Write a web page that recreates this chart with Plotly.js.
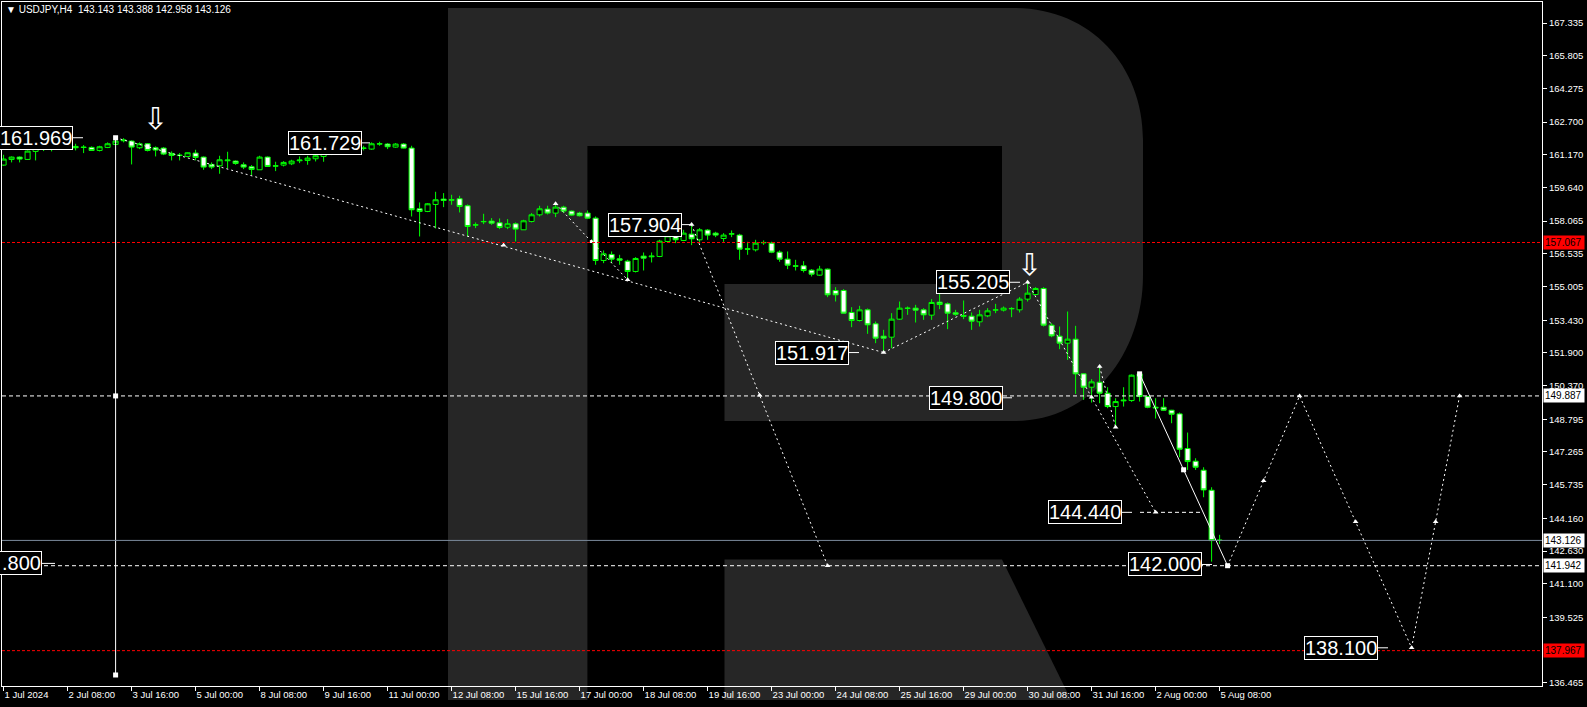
<!DOCTYPE html>
<html><head><meta charset="utf-8">
<script src="https://cdn.plot.ly/plotly-3.0.1.min.js"></script>
<style>html,body{margin:0;padding:0;background:#000;overflow:hidden}#chart{width:1587px;height:707px}</style>
</head><body><div id="chart"></div>
<script>
// ---- data (USDJPY H4, bar 0 = 1 Jul 2024 00:00) ----
const timeLabels = ["1 Jul 2024","2 Jul 08:00","3 Jul 16:00","5 Jul 00:00","8 Jul 08:00","9 Jul 16:00","11 Jul 00:00","12 Jul 08:00","15 Jul 16:00","17 Jul 00:00","18 Jul 08:00","19 Jul 16:00","23 Jul 00:00","24 Jul 08:00","25 Jul 16:00","29 Jul 00:00","30 Jul 08:00","31 Jul 16:00","2 Aug 00:00","5 Aug 08:00"];
const timeLabelBars = [0,8,16,24,32,40,48,56,64,72,80,88,96,104,112,120,128,136,144,152];
const priceTicks = [167.335,165.805,164.275,162.700,161.170,159.640,158.065,156.535,155.005,153.430,151.900,150.370,148.795,147.265,145.735,144.160,142.630,141.100,139.525,136.465];

const openP = [160.689,160.954,161.063,160.954,161.329,161.438,161.469,161.469,161.563,161.563,161.531,161.516,161.375,161.516,161.656,161.828,161.812,161.500,161.687,161.500,161.484,161.235,161.157,161.094,161.250,161.063,160.720,160.657,160.892,160.876,160.704,160.611,160.470,161.063,160.657,160.689,160.751,160.892,160.907,160.985,161.094,161.266,161.250,161.422,161.453,161.469,161.438,161.672,161.672,161.531,161.672,161.484,158.644,158.520,158.847,159.097,159.066,159.113,158.785,157.880,158.036,158.067,157.989,157.786,157.942,157.661,158.051,158.363,158.629,158.442,158.722,158.535,158.442,158.442,158.207,156.226,156.507,156.304,156.194,155.711,156.429,156.397,156.413,157.115,157.365,157.162,157.458,157.193,157.646,157.505,157.255,157.458,157.412,156.772,156.725,157.053,157.037,156.616,156.288,155.976,155.976,155.773,155.539,155.820,154.821,154.821,153.791,153.417,153.916,153.261,152.684,152.636,153.479,153.979,153.994,153.916,153.667,154.275,154.197,153.776,153.651,153.620,153.354,153.635,153.901,153.901,153.963,153.916,154.416,154.634,154.915,153.198,152.684,152.356,152.543,150.919,150.295,150.529,150.014,149.390,149.655,149.671,150.919,149.858,149.359,149.359,149.218,149.047,147.424,146.831,146.410,145.473,143.143];
const highP = [161.172,161.094,161.094,161.375,161.719,161.563,161.563,161.719,161.750,161.687,161.625,161.563,161.594,161.750,161.969,161.950,161.843,161.750,161.719,161.563,161.531,161.329,161.250,161.282,161.407,161.094,160.814,161.126,161.313,160.907,160.814,160.689,161.126,161.094,160.845,160.876,160.938,161.094,161.126,161.250,161.500,161.407,161.500,161.563,161.594,161.594,161.750,161.781,161.719,161.719,161.719,161.594,158.941,158.910,159.440,159.378,159.300,159.253,158.847,158.005,158.410,158.207,158.192,158.161,158.005,158.129,158.442,158.785,158.785,158.878,158.785,158.566,158.504,158.566,158.286,156.694,156.647,156.491,156.257,156.382,156.600,156.600,157.193,157.427,157.427,157.661,157.904,157.739,157.693,157.568,157.505,157.630,157.474,157.100,157.193,157.162,157.100,156.694,156.647,156.257,156.194,155.820,155.976,155.851,154.977,154.884,154.041,154.104,153.979,153.370,152.980,153.760,154.306,154.072,154.150,153.994,154.416,154.696,154.260,153.916,154.353,153.791,153.916,153.994,154.197,154.072,154.041,154.509,155.205,154.977,154.977,153.292,153.136,153.838,153.167,150.951,150.670,151.263,150.295,149.780,150.295,150.888,150.951,149.889,149.780,149.780,149.234,149.109,148.173,146.971,146.550,145.614,143.388];
const lowP = [160.657,160.814,160.814,160.938,160.907,161.344,161.329,161.438,161.500,161.375,161.250,161.360,161.329,161.484,161.625,161.750,160.720,161.438,161.329,161.094,161.157,160.907,160.907,161.063,160.907,160.470,160.501,160.283,160.533,160.704,160.501,160.221,160.470,160.611,160.408,160.626,160.689,160.782,160.704,160.860,160.845,161.157,161.219,161.313,161.313,161.375,161.407,161.594,161.438,161.500,161.469,158.285,157.349,158.488,157.724,158.722,158.832,158.473,157.349,157.739,157.927,157.895,157.693,157.693,157.115,157.661,158.005,158.286,158.379,158.254,158.442,158.317,158.286,158.161,156.023,156.100,156.100,156.023,155.321,155.664,155.757,156.132,156.382,157.068,157.037,157.131,156.943,157.037,157.193,157.318,157.100,157.318,156.257,156.491,156.647,156.959,156.569,156.163,155.820,155.757,155.664,155.477,155.508,154.509,154.306,153.729,153.105,153.370,152.793,152.356,151.917,152.122,153.448,153.682,153.323,153.448,153.448,153.947,153.011,153.635,153.479,152.980,153.136,153.573,153.760,153.838,153.573,153.791,154.306,154.603,153.136,152.636,152.075,151.575,149.983,149.702,149.577,149.546,149.312,148.423,149.390,149.609,149.624,149.312,148.828,149.187,148.610,147.018,146.425,146.425,145.146,142.134,142.958];
const closeP = [160.970,161.063,160.970,161.344,161.484,161.469,161.438,161.672,161.656,161.500,161.516,161.375,161.547,161.687,161.812,161.859,161.531,161.687,161.375,161.391,161.204,161.141,161.141,161.266,161.048,160.595,160.595,160.938,160.923,160.767,160.595,160.486,161.063,160.626,160.642,160.814,160.876,160.923,161.016,161.126,161.313,161.297,161.438,161.453,161.469,161.484,161.687,161.687,161.547,161.672,161.484,158.598,158.520,158.878,159.066,159.034,159.050,158.754,157.817,157.895,158.051,157.973,157.771,157.942,157.693,158.082,158.363,158.644,158.442,158.722,158.535,158.348,158.317,158.207,156.226,156.538,156.288,156.241,155.711,156.319,156.335,156.429,157.131,157.380,157.193,157.505,157.240,157.661,157.412,157.412,157.412,157.474,156.756,156.756,157.037,157.068,156.616,156.288,156.007,155.960,155.757,155.586,155.820,154.618,154.618,153.760,153.417,153.916,153.214,152.590,152.590,153.479,153.994,153.994,153.901,153.682,154.260,154.166,153.760,153.713,153.620,153.386,153.682,153.869,153.916,153.994,153.979,154.416,154.696,154.915,153.198,152.699,152.356,152.543,150.919,150.295,150.545,150.014,149.390,149.624,149.687,150.857,149.858,149.359,149.328,149.218,149.031,147.393,146.815,146.550,145.489,143.117,143.126];

// levels
const redLevels = [157.067, 137.967];
const whiteLevels = [149.887, 141.942];
const bidLevel = 143.126;

// wave / zigzag lines: [bar], [price]
const waveA = {x:[14,110], y:[161.969,151.917]};
const waveB = {x:[69,78], y:[158.878,155.321]};
const waveD = {x:[86,103], y:[157.904,141.942]};
const waveE = {x:[110,128], y:[151.917,155.205]};
const waveF = {x:[128,144], y:[155.205,144.440]};
const waveG = {x:[137,139], y:[151.263,148.423]};
const forecast = {x:[153,162,176,182], y:[141.942,149.887,138.100,149.887]};
const solidLeg = {x:[142,153], y:[150.920,141.942]};
const vertLine = {x:[14,14], y:[161.969,136.828]};
const arrowMarks = {x:[62.5,69,73.5,78,94.5,86,103,110,128,136,144,137,139,157.5,162,169,176,179,182],
                    y:[156.936,158.878,157.100,155.321,149.923,157.904,141.942,151.917,155.205,149.822,144.440,151.263,148.423,145.914,149.887,144.0,138.100,143.994,149.887]};
const squareMarks = {x:[14,14,14,142,147.5,153], y:[161.969,149.887,136.828,150.920,146.431,141.942]};

// text labels: text, price
const waveLabels = [
  ["161.969",161.969],["161.729",161.729],["157.904",157.904],["155.205",155.205],["151.917",151.917],
  ["149.800",149.800],["144.440",144.440],["142.000",142.000],["138.100",138.100],[".800",142.050]
];
// ---- end of data ----

const L=2, R=1542, T=2, B=686;
const px = x => (x-L)/(R-L);
const py = y => (B-y)/(B-T);
const toPaper = s => s.replace(/(-?[\d.]+),(-?[\d.]+)/g,(m,a,b)=>px(+a).toFixed(5)+','+py(+b).toFixed(5));

const barIdx = openP.map((_,i)=>i);
const traces = [];
traces.push({type:'candlestick', x:barIdx, open:openP, high:highP, low:lowP, close:closeP,
  increasing:{line:{color:'#00ff00',width:1}, fillcolor:'#000000'},
  decreasing:{line:{color:'#00ff00',width:1}, fillcolor:'#ffffff'},
  whiskerwidth:0, hoverinfo:'skip', showlegend:false});
const dotted = {color:'#ffffff', width:1, dash:'2px,3px'};
[waveA,waveB,waveD,waveE,waveF,waveG,forecast].forEach(w=>traces.push({type:'scatter',mode:'lines',x:w.x,y:w.y,line:dotted,hoverinfo:'skip',showlegend:false}));
[solidLeg,vertLine].forEach(w=>traces.push({type:'scatter',mode:'lines',x:w.x,y:w.y,line:{color:'#ffffff',width:1},hoverinfo:'skip',showlegend:false}));
traces.push({type:'scatter',mode:'markers',x:arrowMarks.x,y:arrowMarks.y,marker:{symbol:'triangle-up',size:5,color:'#ffffff'},hoverinfo:'skip',showlegend:false});
traces.push({type:'scatter',mode:'markers',x:squareMarks.x,y:squareMarks.y,marker:{symbol:'square',size:5,color:'#ffffff'},hoverinfo:'skip',showlegend:false});

const shapes = [];
const logoColor = '#262626';
shapes.push({type:'path', xref:'paper', yref:'paper', layer:'below', fillcolor:logoColor, line:{width:0},
  path: toPaper("M448,8 L1014,8 C1090,8 1143,65 1143,140 L1143,275 C1143,355 1090,421 1014,421 L724.5,421 L724.5,284 L1002,284 L1002,146 L587.4,146 L587.4,700 L448,700 Z")});
shapes.push({type:'path', xref:'paper', yref:'paper', layer:'below', fillcolor:logoColor, line:{width:0},
  path: toPaper("M724.5,559.5 L1002,559.5 L1071,700 L724.5,700 Z")});
redLevels.forEach(v=>shapes.push({type:'line',xref:'paper',yref:'y',x0:0,x1:1,y0:v,y1:v,line:{color:'#ff0000',width:1,dash:'3px,2px'}}));
whiteLevels.forEach(v=>shapes.push({type:'line',xref:'paper',yref:'y',x0:0,x1:1,y0:v,y1:v,line:{color:'#ffffff',width:1,dash:'4px,3px'}}));
shapes.push({type:'line',xref:'paper',yref:'y',x0:0,x1:1,y0:bidLevel,y1:bidLevel,line:{color:'#7a8a9c',width:1}});
shapes.push({type:'line',xref:'paper',yref:'y',x0:px(1140),x1:px(1203),y0:144.440,y1:144.440,line:{color:'#ffffff',width:1,dash:'4px,3px'}});

// label box right edges and connector ends (pixels)
const labelPos = [[73,83],[362,370],[682,690],[1010,1020],[849,859],[1003,1012],[1122,1132],[1202,1212],[1378,1388],[42,55]];
const annotations = [];
waveLabels.forEach((l,i)=>{
  const [xr,lx] = labelPos[i];
  const a = {xref:'paper',yref:'y',x:px(xr),y:l[1],xanchor:'right',yanchor:'middle',text:l[0],showarrow:false,
    font:{family:'Liberation Sans',size:20,color:'#ffffff'},bgcolor:'#000000',bordercolor:'#ffffff',borderwidth:1,borderpad:0};
  if (l[0].length < 5) { a.width = 46; a.align = 'right'; }
  annotations.push(a);
  shapes.push({type:'line',xref:'paper',yref:'y',x0:px(xr),x1:px(lx),y0:l[1],y1:l[1],line:{color:'#ffffff',width:1}});
});
// price-scale labels
[[157.067,'#ff0000'],[149.887,'#ffffff'],[143.126,'#ffffff'],[141.942,'#ffffff'],[137.967,'#ff0000']].forEach(([v,c])=>{
  annotations.push({xref:'paper',yref:'y',x:px(1543),y:v,xanchor:'left',yanchor:'middle',text:v.toFixed(3),showarrow:false,
    font:{family:'Liberation Sans',size:10,color:'#000000'},bgcolor:c,borderpad:1,width:38,align:'left'});
});
// header
annotations.push({xref:'paper',yref:'paper',x:px(4),y:py(2),xanchor:'left',yanchor:'top',showarrow:false,
  text:'▼ USDJPY,H4&nbsp;&nbsp;143.143 143.388 142.958 143.126',font:{family:'Liberation Sans',size:10,color:'#ffffff'}});
// down arrows
[[155,119],[1029,264]].forEach(([x,y])=>annotations.push({xref:'paper',yref:'paper',x:px(x),y:py(y),xanchor:'center',yanchor:'middle',showarrow:false,
  text:'⇩',font:{family:'DejaVu Sans',size:30,color:'#ffffff'}}));

const axFont = {family:'Liberation Sans',size:9.5,color:'#ffffff'};
const layout = {
  width:1587, height:707, margin:{l:L,r:1587-R,t:T,b:707-B,pad:0},
  paper_bgcolor:'#000000', plot_bgcolor:'rgba(0,0,0,0)', showlegend:false, hovermode:false, dragmode:false,
  boxgap:0.1,
  xaxis:{range:[-0.2,192.3], tickmode:'array', tickvals:timeLabelBars, ticktext:timeLabels, ticks:'outside', ticklen:4, tickcolor:'#ffffff',
    showline:true, linecolor:'#ffffff', linewidth:1, mirror:true, showgrid:false, zeroline:false, tickfont:axFont,
    ticklabelposition:'outside right', rangeslider:{visible:false}, fixedrange:true},
  yaxis:{side:'right', range:[136.313,168.321], tickmode:'array', tickvals:priceTicks, tickformat:'.3f', ticks:'outside', ticklen:4, tickcolor:'#ffffff',
    showline:true, linecolor:'#ffffff', linewidth:1, mirror:true, showgrid:false, zeroline:false, tickfont:axFont, fixedrange:true},
  shapes, annotations
};
Plotly.newPlot('chart', traces, layout, {staticPlot:true, displayModeBar:false});
</script>
</body></html>
